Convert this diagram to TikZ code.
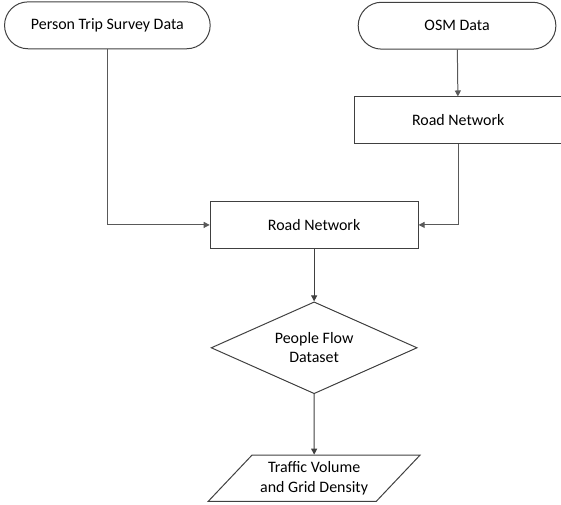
\documentclass[tikz,border=0pt]{standalone}
\usepackage{fontspec}
\setmainfont{Carlito}
\usetikzlibrary{arrows.meta,shapes.misc,shapes.geometric}

\tikzset{
	terminal/.style={rounded rectangle, draw=black!75, line width=0.75pt, minimum height=1.24cm, inner sep=2pt},
	process/.style={rectangle, draw=black!75, line width=0.75pt, minimum width=5.5cm, minimum height=1.23cm},
	decision/.style={diamond, aspect=2.24, draw=black!75, line width=0.75pt, minimum width=5.45cm, minimum height=2.43cm, inner sep=0pt, align=center},
	io/.style={trapezium, trapezium left angle=37, trapezium right angle=143, trapezium stretches body, draw=black!75, line width=0.75pt, minimum width=5.6cm, minimum height=1.22cm, inner sep=0pt, align=center}
}

\begin{document}
\begin{tikzpicture}[>={Triangle[length=4.5pt,width=4.5pt]}, font=\fontsize{12}{14.5}\selectfont]
		\useasboundingbox (0, 0) rectangle (14.84, 13.34);
		\node[terminal, minimum width=5.58cm] (pts) at (2.84, 12.67) {Person Trip Survey Data};
		\node[terminal, minimum width=5.37cm] (osm) at (12.09, 12.66) {OSM Data};
		\node[process] (rnosm) at (12.12, 10.16) {Road Network};
		\node[process] (rn) at (8.31, 7.39) {Road Network};
		\node[decision] (pf) at (8.31, 4.14) {People Flow\\Dataset};
		\node[io] (tv) at (8.31, 0.69) {Traffic Volume\\and Grid Density};
		\draw[->, black!65, line width=0.75pt] (osm) -- (rnosm);
		\draw[->, black!65, line width=0.75pt] (pts) |- (rn);
		\draw[->, black!65, line width=0.75pt] (rnosm) |- (rn);
		\draw[->, black!75, line width=0.75pt] (rn) -- (pf);
		\draw[->, black!75, line width=0.75pt] (pf) -- (tv);
	\end{tikzpicture}
\end{document}
